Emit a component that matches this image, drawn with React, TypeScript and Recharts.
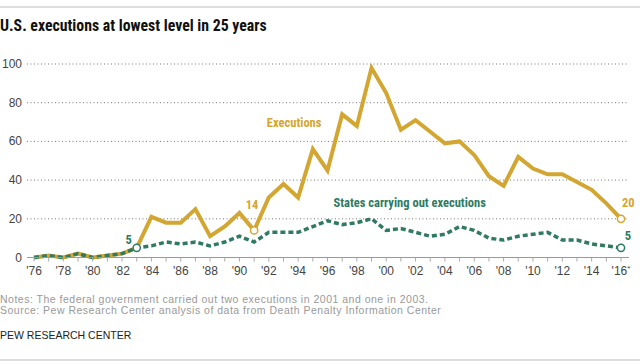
import React from 'react';
import { LineChart, Line, XAxis, YAxis, CartesianGrid } from 'recharts';

const years = [
  1976, 1977, 1978, 1979, 1980, 1981, 1982, 1983, 1984, 1985, 1986, 1987, 1988, 1989,
  1990, 1991, 1992, 1993, 1994, 1995, 1996, 1997, 1998, 1999, 2000, 2001, 2002, 2003,
  2004, 2005, 2006, 2007, 2008, 2009, 2010, 2011, 2012, 2013, 2014, 2015, 2016,
];
const executions = [
  0, 1, 0, 2, 0, 1, 2, 5, 21, 18, 18, 25, 11, 16,
  23, 14, 31, 38, 31, 56, 45, 74, 68, 98, 85, 66, 71, 65,
  59, 60, 53, 42, 37, 52, 46, 43, 43, 39, 35, 28, 20,
];
const states = [
  0, 1, 0, 2, 0, 1, 2, 5, 6, 8, 7, 8, 6, 8,
  11, 8, 13, 13, 13, 16, 19, 17, 18, 20, 14, 15, 13, 11,
  12, 16, 14, 10, 9, 11, 12, 13, 9, 9, 7, 6, 5,
];
const yTicks = [0, 20, 40, 60, 80, 100];
const labeledYears = [
  1976, 1978, 1980, 1982, 1984, 1986, 1988, 1990, 1992, 1994, 1996, 1998, 2000, 2002,
  2004, 2006, 2008, 2010, 2012, 2014, 2016,
];
const xTickLabels = [
  "'76", "'78", "'80", "'82", "'84", "'86", "'88", "'90", "'92", "'94", "'96", "'98", "'00", "'02",
  "'04", "'06", "'08", "'10", "'12", "'14", "'16",
];

const GOLD = '#D3A631';
const GREEN = '#2F7A62';
const TICK_FONT = '"Liberation Sans", Arial, sans-serif';
const NARROW = '"Liberation Sans Narrow", "Arial Narrow", "Roboto Condensed", sans-serif';

const chartData = years.map((year, i) => ({
  year,
  executions: executions[i],
  states: states[i],
}));

// which points get a hollow marker
const goldCircled = [years.indexOf(1991), years.indexOf(2016)];
const greenCircled = [years.indexOf(1983), years.indexOf(2016)];

const makeDot = (color: string, which: number[]) => (props: any) => {
  const { cx, cy, index } = props;
  if (!which.includes(index)) return <g key={`d-${color}-${index}`} />;
  return (
    <circle
      key={`d-${color}-${index}`}
      cx={cx}
      cy={cy}
      r={3.6}
      fill="#fff"
      stroke={color}
      strokeWidth={1.5}
    />
  );
};

const XTick = (props: any) => {
  const { x, y, payload } = props;
  const idx = labeledYears.indexOf(payload.value);
  if (idx < 0) return <g />;
  const label = xTickLabels[idx];
  return (
    <text x={x} y={y + 11} textAnchor="middle" fill="#444" fontSize={12} fontFamily={TICK_FONT}>
      {label}
      {payload.value === 2016 ? <tspan fontSize={8} dy={-4}>*</tspan> : null}
    </text>
  );
};

const YTick = (props: any) => {
  const { y, payload } = props;
  return (
    <text x={22} y={y + 4} textAnchor="end" fill="#444" fontSize={12} fontFamily={TICK_FONT}>
      {payload.value}
    </text>
  );
};

const execLabel = (props: any) => {
  const { x, y, index, value } = props;
  const year = years[index];
  const common = { fontFamily: NARROW, fontWeight: 700, fill: GOLD, fontSize: 12.5 };
  if (year === 1994) {
    return (
      <text key="el" x={x - 4} y={y - 70.5} textAnchor="middle" {...common}>
        Executions
      </text>
    );
  }
  if (year === 1991) {
    return (
      <text key="l91" x={x - 2} y={y - 21} textAnchor="middle" {...common}>
        {value}
      </text>
    );
  }
  if (year === 2016) {
    return (
      <text key="l16" x={x + 1} y={y - 12} textAnchor="start" {...common}>
        {value}
      </text>
    );
  }
  return <g key={`ge-${index}`} />;
};

const statesLabel = (props: any) => {
  const { x, y, index, value } = props;
  const year = years[index];
  const common = { fontFamily: NARROW, fontWeight: 700, fill: GREEN, fontSize: 12.5 };
  if (year === 1996) {
    return (
      <text key="sl" x={x + 6} y={y - 14} textAnchor="start" {...common}>
        States carrying out executions
      </text>
    );
  }
  if (year === 1983) {
    return (
      <text key="s83" x={x - 8} y={y - 4} textAnchor="middle" {...common}>
        {value}
      </text>
    );
  }
  if (year === 2016) {
    return (
      <text key="s16" x={x + 7} y={y - 8} textAnchor="middle" {...common}>
        {value}
      </text>
    );
  }
  return <g key={`gs-${index}`} />;
};

export default function App() {
  return (
    <div style={{ position: 'absolute', left: 0, top: 0, width: 640, height: 363, background: '#fff' }}>
      <svg width={640} height={363} style={{ position: 'absolute', left: 0, top: 0 }}>
        <line x1={0} x2={640} y1={7} y2={7} stroke="#bbb" strokeWidth={1} />
        <text x={0} y={31} fontFamily={NARROW} fontWeight={700} fontSize={15.8} fill="#111">
          U.S. executions at lowest level in 25 years
        </text>
        <text x={0} y={302.5} fontFamily={TICK_FONT} fontSize={10.5} letterSpacing={0.5} fill="#999">
          Notes: The federal government carried out two executions in 2001 and one in 2003.
        </text>
        <text x={0} y={314} fontFamily={TICK_FONT} fontSize={10.5} letterSpacing={0.5} fill="#999">
          Source: Pew Research Center analysis of data from Death Penalty Information Center
        </text>
        <text x={0} y={339} fontFamily={TICK_FONT} fontSize={10.5} fill="#222">
          PEW RESEARCH CENTER
        </text>
        <line x1={0} x2={640} y1={360} y2={360} stroke="#bbb" strokeWidth={1} />
      </svg>
      <div style={{ position: 'absolute', left: 0, top: 0 }}>
        <LineChart
          width={640}
          height={300}
          data={chartData}
          margin={{ top: 64, right: 11, left: 0, bottom: 12.5 }}
        >
          <CartesianGrid vertical={false} strokeDasharray="1 2.5" stroke="#777" />
          <XAxis
            dataKey="year"
            type="number"
            domain={[1976, 2016]}
            ticks={years}
            interval={0}
            padding={{ left: 7, right: 8 }}
            height={30}
            tickSize={4}
            tickLine={{ stroke: '#aaa' }}
            axisLine={{ stroke: '#999' }}
            tick={<XTick />}
          />
          <YAxis
            type="number"
            domain={[0, 100]}
            ticks={yTicks}
            width={27}
            axisLine={false}
            tickLine={false}
            tick={<YTick />}
          />
          <Line
            type="linear"
            dataKey="executions"
            stroke={GOLD}
            strokeWidth={4}
            dot={makeDot(GOLD, goldCircled)}
            activeDot={false}
            label={execLabel}
            isAnimationActive={false}
          />
          <Line
            type="linear"
            dataKey="states"
            stroke={GREEN}
            strokeWidth={3.5}
            strokeDasharray="5 3"
            dot={makeDot(GREEN, greenCircled)}
            activeDot={false}
            label={statesLabel}
            isAnimationActive={false}
          />
        </LineChart>
      </div>
    </div>
  );
}
